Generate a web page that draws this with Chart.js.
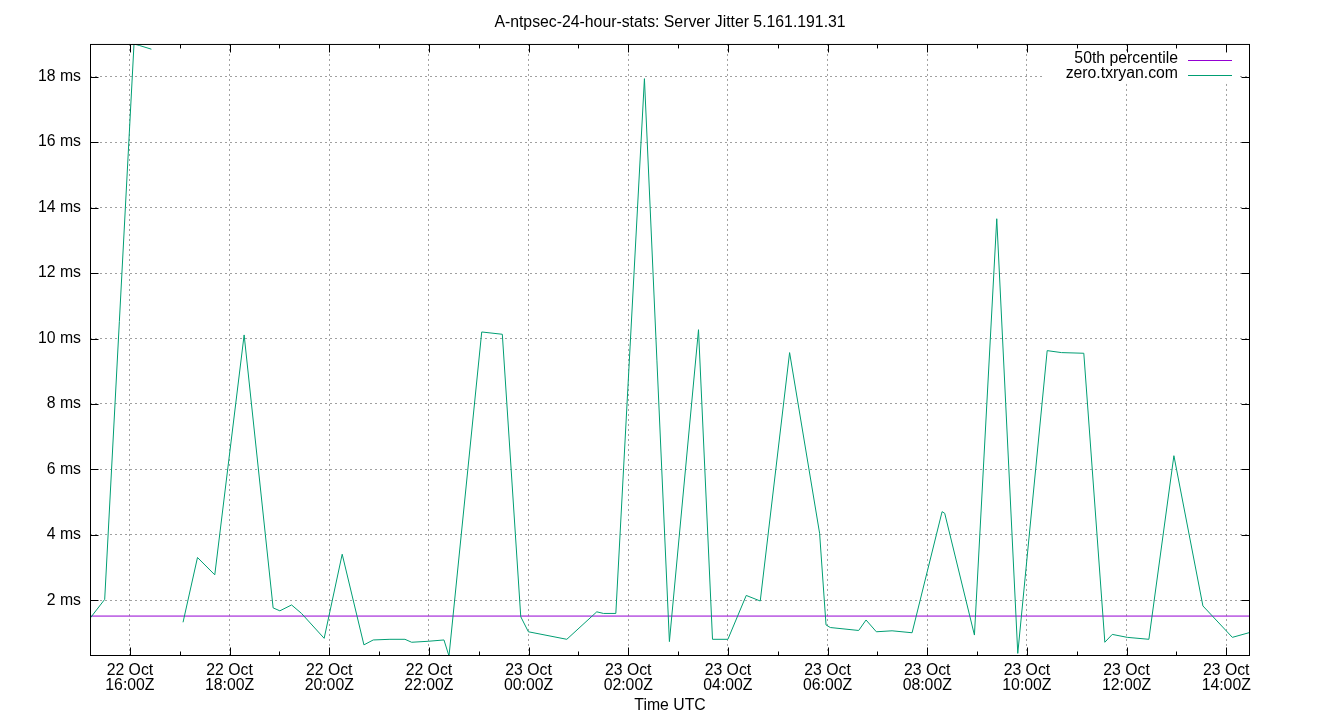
<!DOCTYPE html>
<html><head><meta charset="utf-8">
<script src="https://cdn.jsdelivr.net/npm/chart.js@4.4.1/dist/chart.umd.min.js"></script>
<style>html,body{margin:0;padding:0;background:#fff;}#wrap{width:1340px;height:720px;}</style>
</head><body><div id="wrap"><canvas id="c" width="1340" height="720"></canvas></div>
<script>
const titleText = 'A-ntpsec-24-hour-stats: Server Jitter 5.161.191.31';
const xAxisTitle = 'Time UTC';
const seriesName = 'zero.txryan.com';
const p50Name = '50th percentile';
const p50Value = 1.52;
// hours since 22 Oct 00:00Z
const jitterHours = [15.199, 15.494, 16.082, 16.197, 16.432, 16.75, 17.066, 17.356, 17.703, 18.292,
  18.874, 19.009, 19.244, 19.444, 19.898, 20.260, 20.696, 20.883, 21.218, 21.519,
  21.654, 21.987, 22.302, 22.403, 23.060, 23.473, 23.843, 23.996, 24.767, 25.369,
  25.502, 25.751, 26.325, 26.826, 27.410, 27.691, 28.000, 28.368, 28.649, 29.238,
  29.840, 29.969, 30.055, 30.624, 30.772, 30.979, 31.294, 31.696, 32.298, 32.351,
  32.947, 33.395, 33.817, 34.407, 34.695, 35.142, 35.564, 35.713, 36.014, 36.448,
  36.950, 37.532, 38.123, 38.477];
const jitterMs = [1.45, 2.03, 19.0, 18.95, 18.84, null, 1.33, 3.31, 2.78, 10.11,
  1.77, 1.68, 1.86, 1.60, 0.84, 3.41, 0.64, 0.79, 0.81, 0.81,
  0.72, 0.75, 0.79, 0.30, 10.2, 10.13, 1.50, 1.04, 0.81, 1.65,
  1.60, 1.60, 17.94, 0.74, 10.27, 0.81, 0.81, 2.15, 1.98, 9.57,
  4.05, 1.25, 1.17, 1.08, 1.40, 1.04, 1.07, 1.01, 4.71, 4.66,
  0.94, 13.66, 0.38, 9.63, 9.57, 9.55, 0.72, 0.96, 0.87, 0.81,
  6.42, 1.83, 0.87, 1.02];
const xMajorHours = [16, 18, 20, 22, 24, 26, 28, 30, 32, 34, 36, 38];
const xMinorHours = [17, 19, 21, 23, 25, 27, 29, 31, 33, 35, 37];
const xTickLabels = [['22 Oct','16:00Z'],['22 Oct','18:00Z'],['22 Oct','20:00Z'],['22 Oct','22:00Z'],
  ['23 Oct','00:00Z'],['23 Oct','02:00Z'],['23 Oct','04:00Z'],['23 Oct','06:00Z'],
  ['23 Oct','08:00Z'],['23 Oct','10:00Z'],['23 Oct','12:00Z'],['23 Oct','14:00Z']];
const yTicks = [2, 4, 6, 8, 10, 12, 14, 16, 18];
const yMin = 0.30, yMax = 19.0;

const FONT = "'Liberation Sans', Arial, sans-serif";
const FS = 15.8;
const GREEN = '#009e73', PURPLE = '#9400d3';
const xMin = jitterHours[0], xMax = jitterHours[jitterHours.length - 1];

Chart.defaults.color = '#000';
Chart.defaults.font.family = FONT;
Chart.defaults.font.size = FS;

const frame = {
  id: 'frame',
  beforeDatasetsDraw(chart) {
    // opaque key area (covers grid behind the legend)
    const ctx = chart.ctx;
    ctx.save();
    ctx.fillStyle = '#fff';
    ctx.fillRect(1043, 52, 197, 29);
    ctx.restore();
  },
  afterDraw(chart) {
    const {ctx, chartArea: a, scales: {x, y}} = chart;
    ctx.save();
    ctx.strokeStyle = '#000';
    ctx.lineWidth = 1;
    ctx.beginPath();
    const L = a.left + 0.5, R = a.right - 0.5, T = a.top + 0.5, B = a.bottom - 0.5;
    const tick = (x1, y1, x2, y2) => { ctx.moveTo(x1, y1); ctx.lineTo(x2, y2); };
    xMajorHours.forEach(h => { const px = Math.round(x.getPixelForValue(h)) + 0.5; tick(px, B, px, B - 8); tick(px, T, px, T + 8); });
    xMinorHours.forEach(h => { const px = Math.round(x.getPixelForValue(h)) + 0.5; tick(px, B, px, B - 4); tick(px, T, px, T + 4); });
    yTicks.forEach(v => { const py = Math.round(y.getPixelForValue(v)) + 0.5; tick(L, py, L + 8, py); tick(R, py, R - 8, py); });
    ctx.stroke();
    ctx.strokeRect(L, T, R - L, B - T);
    // legend
    ctx.font = FS + 'px ' + FONT;
    ctx.textAlign = 'right';
    ctx.textBaseline = 'middle';
    const rows = [[p50Name, PURPLE, 59], [seriesName, GREEN, 74]];
    rows.forEach(([t, c, yy]) => {
      ctx.fillStyle = '#000';
      ctx.fillText(t, 1178, yy);
      ctx.strokeStyle = c;
      ctx.lineWidth = 1;
      ctx.beginPath(); ctx.moveTo(1188, yy + 1.5); ctx.lineTo(1232, yy + 1.5); ctx.stroke();
    });
    ctx.restore();
  }
};

new Chart(document.getElementById('c'), {
  type: 'line',
  data: {
    datasets: [
      { label: seriesName, data: jitterHours.map((h, i) => ({x: h, y: jitterMs[i]})),
        borderColor: GREEN, borderWidth: 1, pointRadius: 0, tension: 0, spanGaps: false, order: 0 },
      { label: p50Name, data: [{x: xMin, y: p50Value}, {x: xMax, y: p50Value}],
        borderColor: PURPLE, borderWidth: 1, pointRadius: 0, tension: 0, order: 1 }
    ]
  },
  plugins: [frame],
  options: {
    responsive: false, animation: false, devicePixelRatio: 1,
    layout: { padding: { left: 0, right: 90, top: 0, bottom: 0 } },
    plugins: {
      legend: { display: false }, tooltip: { enabled: false },
      title: { display: true, fullSize: false, text: titleText, font: { size: FS, weight: 'normal' }, color: '#000',
        padding: { top: 13.5, bottom: 11.5 } }
    },
    scales: {
      x: {
        type: 'linear', min: xMin, max: xMax,
        afterBuildTicks: s => { s.ticks = xMajorHours.map(v => ({value: v})); },
        afterFit: s => { s.height = 64; },
        ticks: { autoSkip: false, maxRotation: 0, padding: 7, color: '#000',
          font: { size: FS, lineHeight: 0.97 },
          callback: v => xTickLabels[xMajorHours.indexOf(v)] },
        grid: { color: '#a0a0a0', lineWidth: 1, drawTicks: false },
        border: { display: false, dash: [2, 3] },
        title: { display: true, text: xAxisTitle, color: '#000', font: { size: FS }, padding: { top: 0, bottom: 4.5 } }
      },
      y: {
        type: 'linear', min: yMin, max: yMax,
        afterBuildTicks: s => { s.ticks = yTicks.map(v => ({value: v})); },
        afterFit: s => { s.width = 90; },
        ticks: { padding: 9, color: '#000', callback: v => v + ' ms' },
        grid: { color: '#a0a0a0', lineWidth: 1, drawTicks: false },
        border: { display: false, dash: [2, 3] }
      }
    }
  }
});
</script></body></html>
